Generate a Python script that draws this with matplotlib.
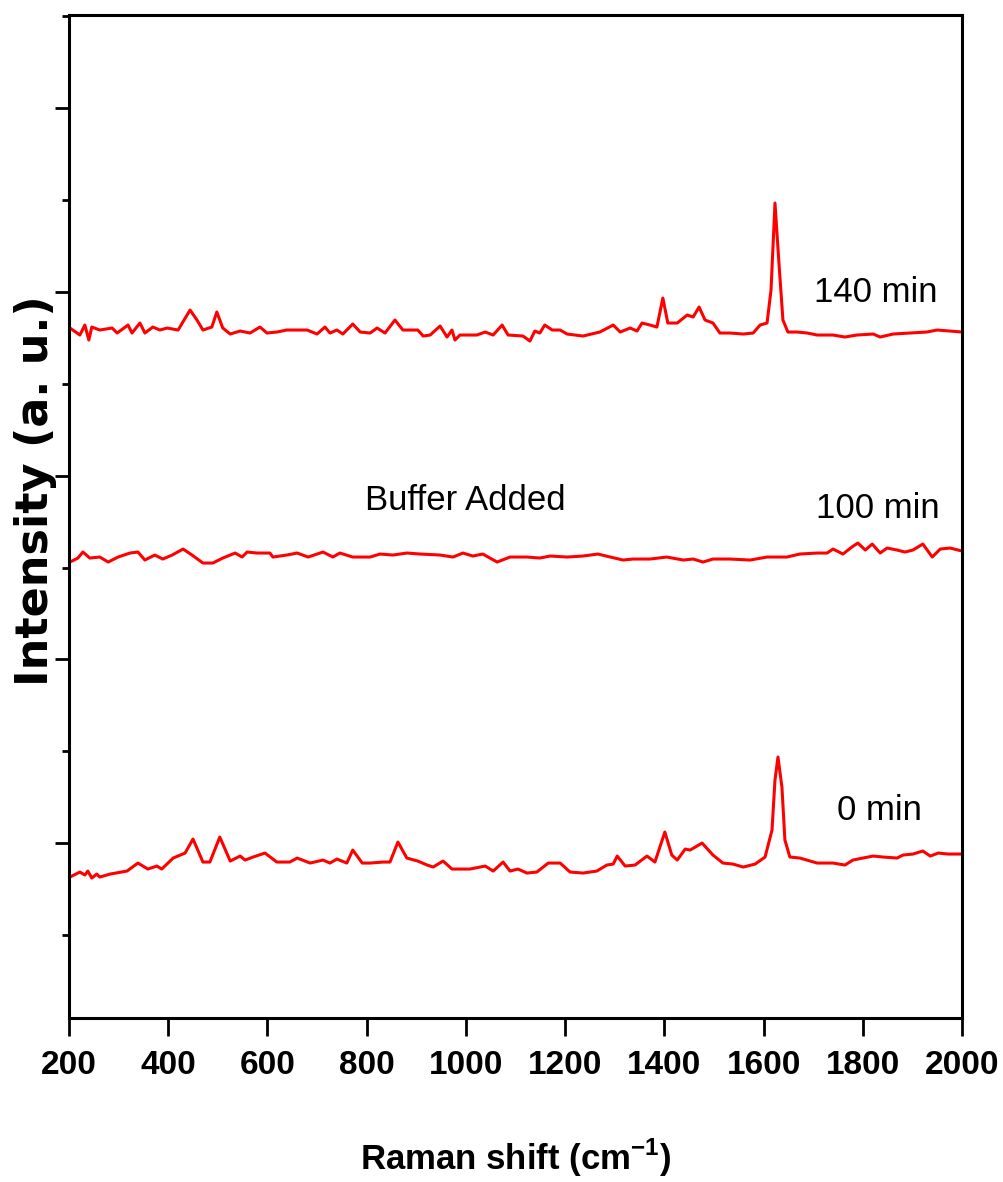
import matplotlib
matplotlib.use("Agg")
import matplotlib.pyplot as plt
from matplotlib.ticker import MultipleLocator

# Spektren (Raman shift in cm-1, Intensität in a.u. relativ zur Basislinie)
shift_140 = [202, 222, 232, 240, 246, 262, 287, 297, 319, 327, 343, 353, 369, 383, 398, 420,
             444, 458, 470, 488, 498, 510, 525, 545, 565, 585, 599, 619, 639, 680, 700, 716,
             726, 740, 752, 772, 787, 807, 821, 837, 857, 873, 903, 914, 928, 948, 962, 972,
             978, 988, 1022, 1039, 1055, 1073, 1085, 1115, 1129, 1139, 1149, 1159, 1174, 1190,
             1204, 1236, 1270, 1297, 1311, 1331, 1345, 1355, 1371, 1385, 1397, 1407, 1426, 1446,
             1458, 1470, 1482, 1498, 1512, 1532, 1559, 1579, 1593, 1607, 1615, 1623, 1631, 1639,
             1649, 1667, 1688, 1708, 1740, 1764, 1788, 1821, 1835, 1861, 1895, 1929, 1950, 2000]
int_140 = [12, 5, 15, 0, 13, 10, 12, 7, 15, 7, 17, 7, 13, 10, 12, 10,
           30, 20, 10, 13, 28, 12, 6, 9, 7, 13, 7, 8, 10, 10, 6, 13,
           7, 10, 6, 16, 8, 7, 12, 7, 20, 10, 10, 4, 5, 14, 3, 10,
           0, 5, 5, 8, 5, 15, 5, 4, -1, 9, 7, 15, 10, 10,
           6, 4, 8, 15, 8, 12, 9, 17, 15, 13, 42, 17, 17, 25,
           23, 33, 20, 17, 7, 7, 6, 7, 15, 17, 50, 137, 77, 20,
           8, 8, 7, 5, 5, 3, 5, 6, 3, 6, 7, 8, 10, 8]

shift_100 = [202, 218, 228, 242, 262, 279, 299, 323, 339, 353, 373, 389, 408, 430, 448, 470,
             490, 510, 535, 549, 559, 579, 605, 611, 639, 660, 682, 712, 732, 746, 772, 807,
             827, 853, 881, 908, 948, 974, 994, 1014, 1034, 1063, 1089, 1123, 1149, 1170, 1204,
             1236, 1266, 1291, 1317, 1337, 1371, 1405, 1438, 1458, 1478, 1498, 1532, 1573, 1607,
             1647, 1673, 1708, 1728, 1740, 1760, 1778, 1790, 1805, 1819, 1835, 1849, 1869, 1885,
             1901, 1921, 1940, 1956, 1976, 2000]
int_100 = [3, 7, 13, 7, 8, 3, 8, 12, 13, 5, 10, 6, 10, 16, 10, 2,
           2, 7, 12, 8, 13, 12, 12, 8, 10, 12, 8, 13, 8, 12, 8, 8,
           11, 10, 12, 11, 10, 8, 12, 9, 11, 3, 8, 8, 7, 9, 8,
           9, 11, 8, 5, 6, 6, 8, 5, 6, 3, 6, 6, 5, 8,
           8, 11, 12, 12, 16, 11, 18, 22, 15, 21, 12, 17, 15, 13,
           15, 21, 8, 16, 17, 14]

shift_0 = [202, 222, 232, 238, 246, 256, 262, 283, 317, 339, 359, 377, 387, 410, 434, 450,
           470, 484, 504, 525, 545, 555, 571, 595, 619, 645, 660, 686, 712, 726, 740, 760,
           772, 791, 807, 833, 847, 863, 881, 903, 922, 934, 954, 972, 1008, 1039, 1055, 1075,
           1089, 1105, 1123, 1143, 1166, 1190, 1210, 1236, 1264, 1284, 1297, 1305, 1321, 1341,
           1365, 1381, 1401, 1415, 1426, 1442, 1452, 1476, 1498, 1518, 1538, 1559, 1583, 1603,
           1617, 1623, 1629, 1637, 1643, 1653, 1673, 1708, 1740, 1764, 1780, 1800, 1821, 1841,
           1869, 1881, 1901, 1921, 1936, 1952, 1972, 2000]
int_0 = [8, 13, 10, 14, 7, 11, 8, 11, 14, 22, 16, 19, 16, 27, 32, 46,
         23, 23, 48, 24, 29, 25, 28, 32, 23, 23, 27, 22, 25, 22, 26, 22,
         35, 22, 22, 23, 23, 43, 27, 24, 20, 18, 24, 16, 16, 19, 14, 23,
         14, 16, 12, 13, 22, 22, 13, 12, 14, 20, 21, 29, 19, 20,
         29, 23, 53, 30, 25, 36, 35, 42, 30, 22, 21, 18, 21, 28,
         55, 105, 128, 98, 45, 28, 27, 22, 22, 20, 25, 27, 29, 28,
         27, 30, 31, 34, 29, 32, 31, 31]

spectra = [(shift_140, int_140, 687), (shift_100, int_100, 462), (shift_0, int_0, 142)]
labels = ["140 min", "100 min", "0 min"]
label_x = [1827, 1831, 1833]
label_y = [735, 519, 217]

plt.rcParams["font.family"] = ["Liberation Sans", "DejaVu Sans"]
plt.rcParams["mathtext.fontset"] = "custom"
plt.rcParams["mathtext.bf"] = "Liberation Sans:bold"
plt.rcParams["mathtext.rm"] = "Liberation Sans"

fig = plt.figure(figsize=(10.04, 11.82), dpi=100)
ax = fig.add_axes([0.0687, 0.1387, 0.8895, 0.8486])

for x, y, off in spectra:
    ax.plot(x, [v + off for v in y], color="#ff0000", lw=2.2)

for t, tx, ty in zip(labels, label_x, label_y):
    ax.text(tx, ty, t, ha="center", va="center", fontsize=25)
ax.text(998, 527, "Buffer Added", ha="center", va="center", fontsize=25)

ax.set_xlim(200, 2000)
ax.set_ylim(9, 1012)
ax.set_xticks(range(200, 2001, 200))
ax.yaxis.set_major_locator(MultipleLocator(183.8))
ax.yaxis.set_minor_locator(MultipleLocator(91.9))
ax.set_yticklabels([])
ax.tick_params(axis="x", direction="out", length=13, width=2, labelsize=24, pad=10)
ax.tick_params(axis="y", which="major", direction="out", length=10, width=2)
ax.tick_params(axis="y", which="minor", direction="out", length=5, width=2)
for lab in ax.get_xticklabels():
    lab.set_fontweight("bold")
for s in ax.spines.values():
    s.set_linewidth(2.2)

ax.set_xlabel(r"Raman shift (cm$^{\mathbf{-1}}$)", fontsize=25, fontweight="bold")
ax.xaxis.set_label_coords(0.5, -0.118)
ax.set_ylabel("Intensity (a. u.)", fontsize=32, fontweight="bold", family="DejaVu Sans", va="center")
ax.yaxis.set_label_coords(-0.037, 0.526)

fig.savefig("out.png", dpi=100)
